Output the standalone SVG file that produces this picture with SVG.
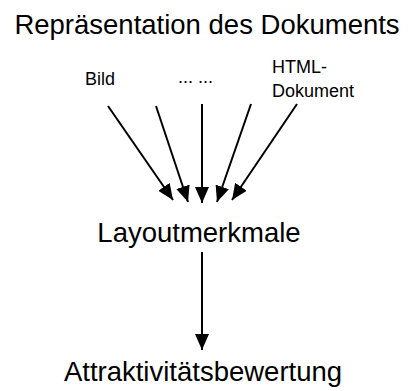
<svg xmlns="http://www.w3.org/2000/svg" width="410" height="391" viewBox="0 0 410 391">
  <style>
    text { font-family: "Liberation Sans", Arial, sans-serif; fill: #000; }
    .big { font-size: 27.5px; }
    .small { font-size: 18px; }
    .edge { stroke: #000; stroke-width: 2; fill: none; marker-end: url(#head); }
  </style>
  <defs>
    <marker id="head" markerUnits="userSpaceOnUse" viewBox="0 0 16 14" refX="16" refY="7" markerWidth="16" markerHeight="14" orient="auto">
      <path d="M0,0 L16,7 L0,14 Z" fill="#000"/>
    </marker>
  </defs>

  <g id="title">
    <text class="big" x="207" y="34" text-anchor="middle">Repräsentation des Dokuments</text>
  </g>
  <g id="bild">
    <text class="small" x="85" y="85">Bild</text>
  </g>
  <g id="etc">
    <text class="small" x="178" y="83">... ...</text>
  </g>
  <g id="html">
    <text class="small" x="272" y="73">HTML-</text>
    <text class="small" x="272" y="97">Dokument</text>
  </g>
  <g id="layout">
    <text class="big" x="199" y="242" text-anchor="middle">Layoutmerkmale</text>
  </g>
  <g id="rating">
    <text class="big" x="203" y="381" text-anchor="middle">Attraktivitätsbewertung</text>
  </g>

  <g id="connectors">
    <line class="edge" x1="108" y1="106" x2="173" y2="200"/>
    <line class="edge" x1="156" y1="106" x2="188" y2="202"/>
    <line class="edge" x1="202" y1="104" x2="202" y2="203"/>
    <line class="edge" x1="251" y1="104" x2="217" y2="202"/>
    <line class="edge" x1="297" y1="104" x2="232" y2="200"/>
    <line class="edge" x1="202" y1="252" x2="202" y2="350"/>
  </g>
</svg>
